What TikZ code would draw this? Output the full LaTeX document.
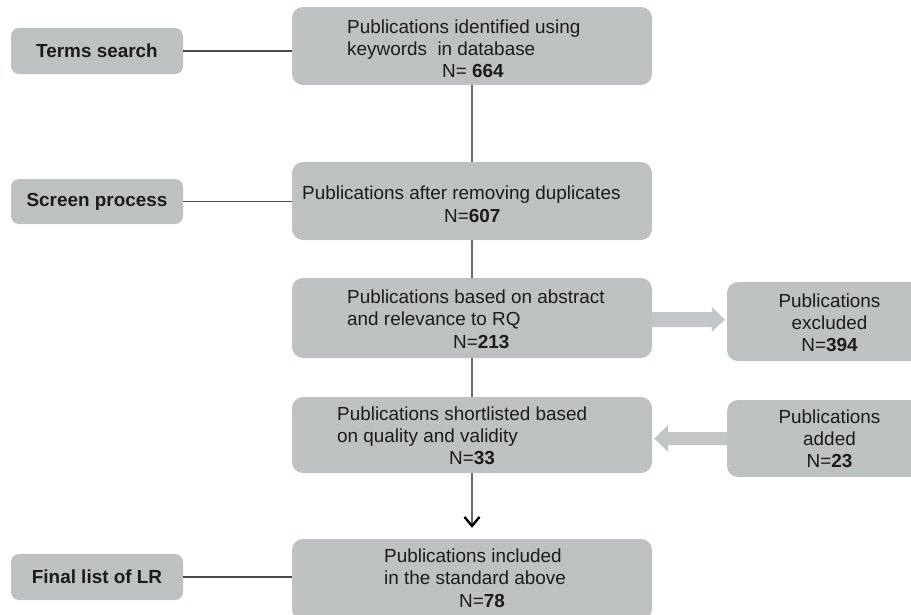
\documentclass[tikz,border=0pt]{standalone}
\usepackage{fontspec}
\setmainfont{Liberation Sans}
\usetikzlibrary{calc,arrows.meta}
\definecolor{boxgray}{HTML}{BEC1C2}
\definecolor{fatgray}{HTML}{C3C6C7}
\definecolor{txtc}{HTML}{1C1C1C}
\definecolor{vlinec}{HTML}{6A6A6A}
\definecolor{hlinec}{HTML}{4A4A4A}
\begin{document}
\begin{tikzpicture}[x=1pt,y=-1pt,
  sidebox/.style={fill=boxgray, rounded corners=8pt, minimum width=172pt, inner sep=0pt, font=\fontsize{18.9}{22.5}\selectfont\bfseries, text=txtc},
  mainbox/.style={fill=boxgray, rounded corners=11pt, minimum width=360pt, inner sep=0pt},
  txt/.style={anchor=base west, inner sep=0pt, font=\fontsize{18.9}{22.5}\selectfont, text=txtc},
  ctxt/.style={anchor=base, inner sep=0pt, font=\fontsize{18.9}{22.5}\selectfont, text=txtc},
  hline/.style={draw=hlinec, line width=1.7pt},
  vline/.style={draw=vlinec, line width=2.8pt},
  fat/.style={fill=fatgray}]
\useasboundingbox (0,0) rectangle (911,614);
\fill[white] (0,0) rectangle (911,614);

% left boxes
\node[sidebox, minimum height=46pt] (terms) at (97,51) {Terms search};
\node[sidebox, minimum height=45pt] (screen) at (97,201.5) {Screen process};
\node[sidebox, minimum height=46pt] (final) at (97,577) {Final list of LR};

% main boxes
\node[mainbox, minimum height=78pt] (b1) at (472,46) {};
\node[mainbox, minimum height=78pt] (b2) at (472,201) {};
\node[mainbox, minimum height=80pt] (b3) at (472,318) {};
\node[mainbox, minimum height=76pt] (b4) at (472,435) {};
\node[mainbox, minimum height=81pt] (b5) at (472,579.5) {};

% right boxes
\node[fill=boxgray, rounded corners=11pt, minimum width=196pt, minimum height=79pt, inner sep=0pt] (excl) at (825,321.5) {};
\node[fill=boxgray, rounded corners=11pt, minimum width=196pt, minimum height=77pt, inner sep=0pt] (added) at (825,438.5) {};

% texts box 1
\node[txt] (t1a) at (347,33) {Publications identified using};
\node[txt] (t1b) at (347,55) {keywords\ \ in database};
\node[txt] (t1c) at (442,77) {N= \textbf{664}};
% box 2
\node[txt] (t2a) at (302,199) {Publications after removing duplicates};
\node[txt] (t2b) at (444,222) {N=\textbf{607}};
% box 3
\node[txt] (t3a) at (347,303) {Publications based on abstract};
\node[txt] (t3b) at (347,325) {and relevance to RQ};
\node[txt] (t3c) at (453,348) {N=\textbf{213}};
% box 4
\node[txt] (t4a) at (337,420) {Publications shortlisted based};
\node[txt] (t4b) at (337,442) {on quality and validity};
\node[txt] (t4c) at (449,464) {N=\textbf{33}};
% box 5
\node[txt] (t5a) at (384,562) {Publications included};
\node[txt] (t5b) at (384,584) {in the standard above};
\node[txt] (t5c) at (459,607) {N=\textbf{78}};
% right texts
\node[ctxt] (e1) at (829.5,307) {Publications};
\node[ctxt] (e2) at (829.5,329) {excluded};
\node[ctxt] (e3) at (829.5,351) {N=\textbf{394}};
\node[ctxt] (a1) at (829.5,423) {Publications};
\node[ctxt] (a2) at (829.5,445) {added};
\node[ctxt] (a3) at (829.5,467) {N=\textbf{23}};

% horizontal connectors
\draw[hline] (terms.east) -- (terms.east -| b1.west);
\draw[hline] (screen.east) -- (screen.east -| b2.west);
\draw[hline] (final.east) -- (final.east -| b5.west);

% vertical connectors
\draw[vline] (b1.south) -- (b2.north);
\draw[vline] (b2.south) -- (b3.north);
\draw[vline] (b3.south) -- (b4.north);
\coordinate (tipc) at ($(b5.north)+(0,-11)$);
\draw[vline, -{Straight Barb[length=9pt,width=15pt,line width=2.4pt,color=black]}] (b4.south) -- (tipc);

% fat arrows
\coordinate (ea) at (b3.east |- 0,319.5);
\coordinate (eb) at (excl.west |- 0,319.5);
\fill[fat] ($(ea)+(0,-7.5)$) -- ($(eb)+(-15,-7.5)$) -- ($(eb)+(-15,-12.5)$) -- ($(eb)+(-2,0)$) -- ($(eb)+(-15,12.5)$) -- ($(eb)+(-15,7.5)$) -- ($(ea)+(0,7.5)$) -- cycle;
\coordinate (aa) at (added.west |- 0,438.5);
\coordinate (ab) at (b4.east |- 0,438.5);
\fill[fat] ($(aa)+(0,-6.5)$) -- ($(ab)+(16,-6.5)$) -- ($(ab)+(16,-13.5)$) -- ($(ab)+(2,0)$) -- ($(ab)+(16,13.5)$) -- ($(ab)+(16,6.5)$) -- ($(aa)+(0,6.5)$) -- cycle;
\end{tikzpicture}
\end{document}
